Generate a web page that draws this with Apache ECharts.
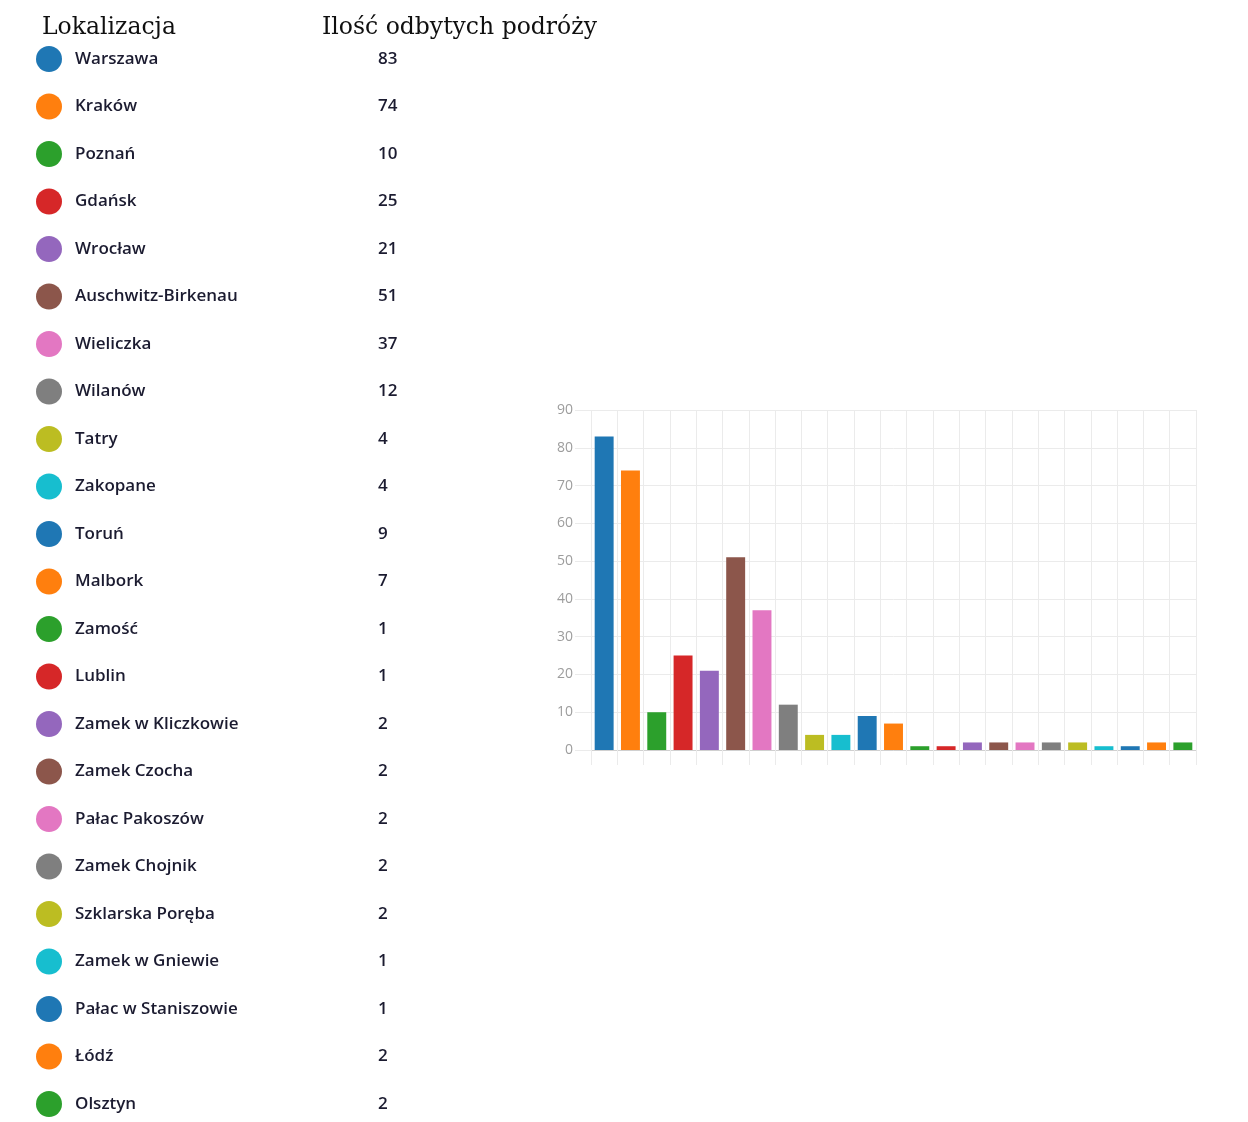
<!DOCTYPE html>
<html>
<head>
<meta charset="utf-8">
<script src="https://cdn.jsdelivr.net/npm/echarts@6/dist/echarts.min.js"></script>
<style>
html,body{margin:0;padding:0;background:#fff;}
#c{width:1248px;height:1122px;}
</style>
</head>
<body>
<div id="c"></div>
<script>
const categories = ["Warszawa","Kraków","Poznań","Gdańsk","Wrocław","Auschwitz-Birkenau","Wieliczka","Wilanów","Tatry","Zakopane","Toruń","Malbork","Zamość","Lublin","Zamek w Kliczkowie","Zamek Czocha","Pałac Pakoszów","Zamek Chojnik","Szklarska Poręba","Zamek w Gniewie","Pałac w Staniszowie","Łódź","Olsztyn"];
const trips = [83,74,10,25,21,51,37,12,4,4,9,7,1,1,2,2,2,2,2,1,1,2,2];
const yTicks = [0,10,20,30,40,50,60,70,80,90];
const headers = ["Lokalizacja","Ilość odbytych podróży"];
const palette = ["#1f77b4","#ff7f0e","#2ca02c","#d62728","#9467bd","#8c564b","#e377c2","#7f7f7f","#bcbd22","#17becf"];

const chart = echarts.init(document.getElementById('c'), null, {renderer:'canvas'});
const gridCol = '#ebebeb';
const headStyle = {fontFamily:'DejaVu Serif', fontSize:23.5, fontWeight:'normal', color:'#0f0f0f'};
chart.setOption({
  animation:false,
  color: palette,
  title:[
    {text:headers[0], left:42, top:16, padding:0, textStyle:headStyle},
    {text:headers[1], left:322, top:16, padding:0, textStyle:headStyle}
  ],
  grid:[
    {left:591, right:52, top:410, bottom:372},
    {left:49, width:10, top:59, bottom:18}
  ],
  xAxis:[
    {type:'category', gridIndex:0, data:categories,
     axisLabel:{show:false},
     axisLine:{show:true, lineStyle:{color:'#d0d0d0'}},
     axisTick:{show:true, interval:0, length:15, lineStyle:{color:gridCol}},
     splitLine:{show:true, interval:0, lineStyle:{color:gridCol}}},
    {type:'value', gridIndex:1, min:0, max:1, show:false}
  ],
  yAxis:[
    {type:'value', gridIndex:0, min:yTicks[0], max:yTicks[yTicks.length-1], interval:10,
     axisLine:{show:false},
     axisTick:{show:true, length:16, lineStyle:{color:gridCol}},
     axisLabel:{margin:18, color:'#9d9d9d', fontSize:14, fontFamily:'Open Sans'},
     splitLine:{show:true, lineStyle:{color:gridCol}}},
    {type:'category', gridIndex:1, data:categories, inverse:true, boundaryGap:false, show:false}
  ],
  series:[
    {type:'bar', xAxisIndex:0, yAxisIndex:0, data:trips, colorBy:'data', barCategoryGap:'28%'},
    {type:'scatter', xAxisIndex:1, yAxisIndex:1, colorBy:'data', symbol:'circle', symbolSize:26,
     itemStyle:{opacity:1},
     data:categories.map((c,i)=>[0,c,trips[i]]),
     label:{show:true, position:'right', distance:13,
       formatter:p=>'{n|'+p.data[1]+'}{v|'+p.data[2]+'}',
       rich:{
         n:{width:303, fontFamily:'Open Sans', fontSize:17, fontWeight:600, color:'#1b1b30'},
         v:{fontFamily:'Open Sans', fontSize:17, fontWeight:600, color:'#1b1b30'}
       }}}
  ]
});
</script>
</body>
</html>
